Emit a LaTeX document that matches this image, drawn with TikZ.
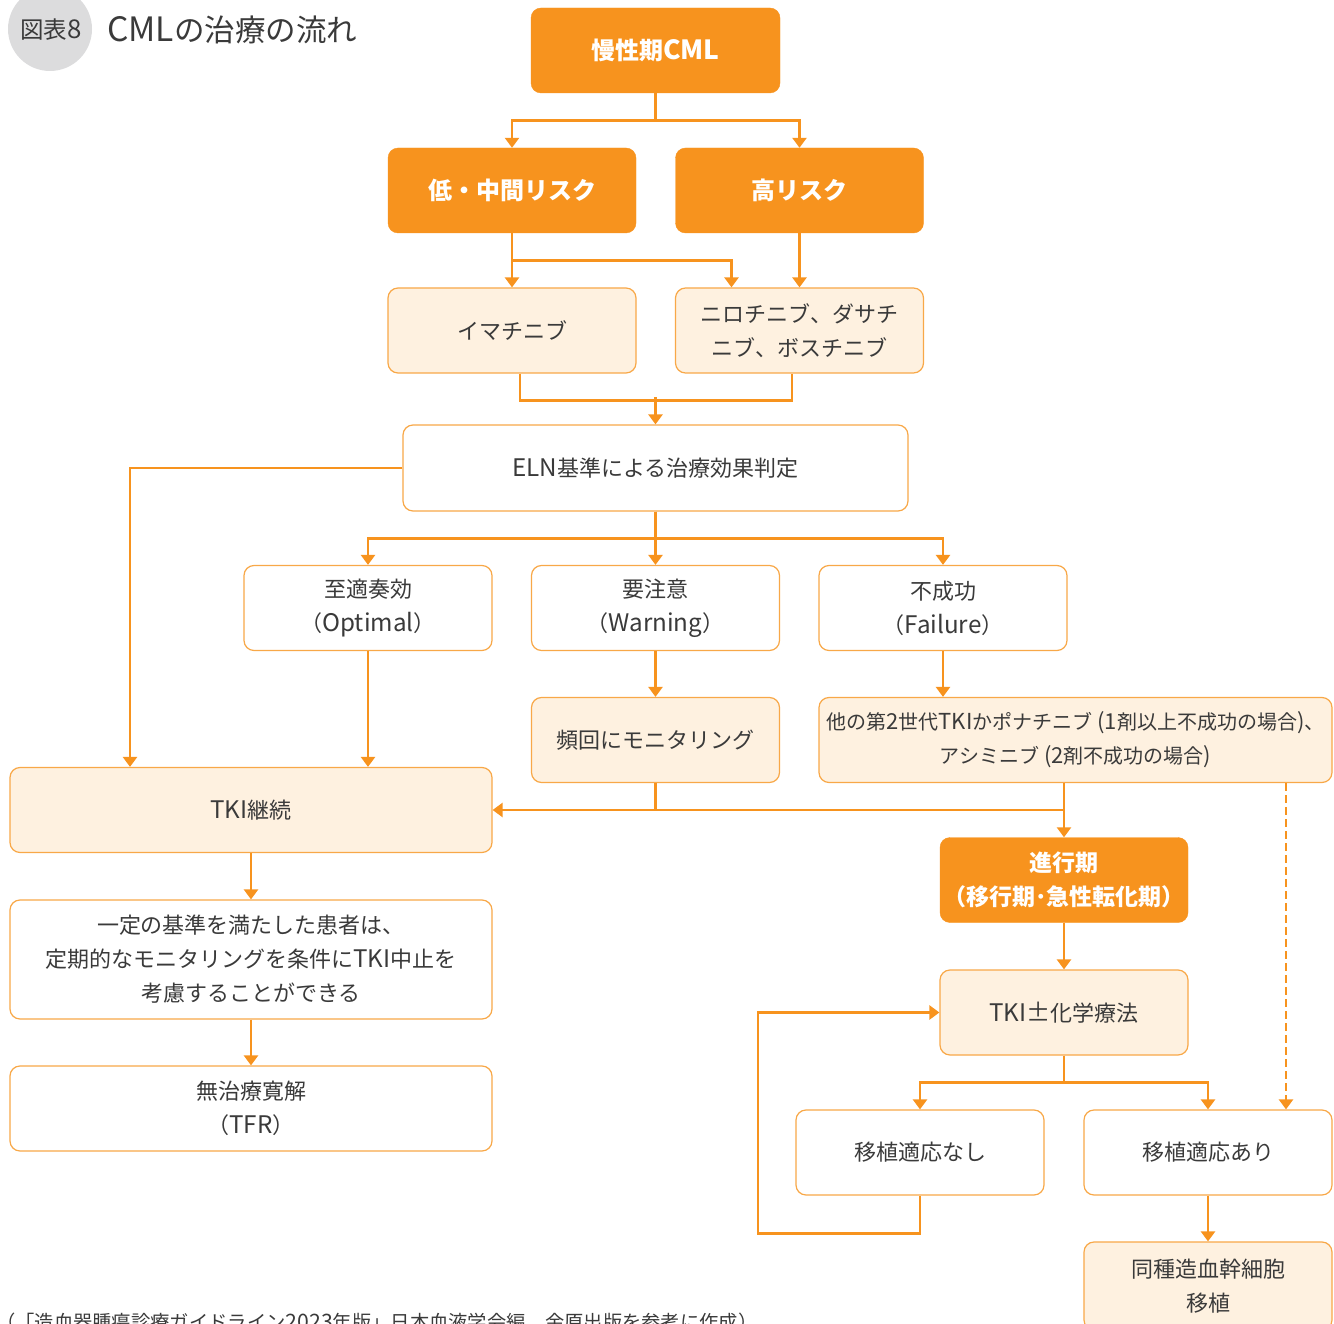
\documentclass[tikz,border=0pt]{standalone}
\usepackage{fontspec}
\setmainfont{Noto Sans CJK JP}
\newfontfamily\latf{Noto Sans CJK JP}[Scale=1.1]
\newcommand{\la}[1]{{\latf #1}}
\usetikzlibrary{arrows.meta}
\definecolor{org}{HTML}{F7931E}
\definecolor{lt}{HTML}{FEF1E0}
\definecolor{bd}{HTML}{F8A848}
\definecolor{txt}{HTML}{3A3A3A}
\definecolor{cgray}{HTML}{DCDCDD}
\tikzset{
  base/.style={rounded corners=10pt, minimum width=248pt, minimum height=85pt, align=center, inner sep=0pt, text=txt, font=\fontsize{22}{34}\selectfont},
  obox/.style={base, fill=org, draw=org, text=white, font=\bfseries\fontsize{24}{34}\selectfont},
  lbox/.style={base, fill=lt, draw=bd, line width=1.2pt},
  wbox/.style={base, fill=white, draw=bd, line width=1.2pt},
  ln/.style={draw=org, line width=2.8pt},
  conn/.style={ln, -{Triangle[width=14pt,length=10pt]}},
}
\begin{document}
\begin{tikzpicture}[x=1pt,y=-1pt]
\useasboundingbox[clip] (0,0) rectangle (1334,1324);
% title
\node[circle, fill=cgray, minimum size=84pt, inner sep=0pt] (tc) at (50,29) {};
\node[text=txt, font=\fontsize{23.5}{26}\selectfont] (tn) at (51,30) {図表\la{8}};
\node[anchor=west, text=txt, font=\fontsize{30.5}{34}\selectfont, inner sep=0pt] (tt) at (107,30) {\la{CML}の治療の流れ};
% nodes
\node[obox, minimum width=249pt] (cml) at (655.5,50.5) {慢性期\la{CML}};
\node[obox] (low) at (512,190.5) {低・中間リスク};
\node[obox] (high) at (799.5,190.5) {高リスク};
\node[lbox] (ima) at (512,330.5) {イマチニブ};
\node[lbox] (nilo) at (799.5,330.5) {ニロチニブ、ダサチ\\ニブ、ボスチニブ};
\node[wbox, minimum width=505pt, minimum height=86pt] (eln) at (655.5,468) {\la{ELN}基準による治療効果判定};
\node[wbox] (opt) at (368,608) {至適奏効\\（\la{Optimal}）};
\node[wbox] (warn) at (655.5,608) {要注意\\（\la{Warning}）};
\node[wbox] (fail) at (943,608) {不成功\\（\la{Failure}）};
\node[lbox] (freq) at (655.5,740) {頻回にモニタリング};
\node[lbox, minimum width=513pt, font=\fontsize{20}{34}\selectfont] (other) at (1075.5,740) {他の第\la{2}世代\la{TKI}かポナチニブ\la{ (1}剤以上不成功の場合\la{)}、\\アシミニブ\la{ (2}剤不成功の場合\la{)}};
\node[lbox, minimum width=482pt] (tki) at (251,810) {\la{TKI}継続};
\node[obox, font=\bfseries\fontsize{23}{34}\selectfont] (adv) at (1064,880) {進行期\\（移行期･急性転化期）};
\node[lbox] (chemo) at (1064,1012.5) {\la{TKI±}化学療法};
\node[wbox] (nono) at (920,1152.5) {移植適応なし};
\node[wbox] (yes) at (1208,1152.5) {移植適応あり};
\node[lbox, minimum height=88pt] (allo) at (1208,1286) {同種造血幹細胞\\移植};
\node[wbox, minimum width=482pt, minimum height=119pt] (crit) at (251,959.5) {一定の基準を満たした患者は、\\定期的なモニタリングを条件に\la{TKI}中止を\\考慮することができる};
\node[wbox, minimum width=482pt] (tfr) at (251,1108.5) {無治療寛解\\（\la{TFR}）};
\node[anchor=base west, text=txt, font=\fontsize{19.3}{20}\selectfont, inner sep=0pt] (note) at (-4,1329) {（「造血器腫瘍診療ガイドライン\la{2023}年版」日本血液学会編　金原出版を参考に作成）};
% connectors
\draw[conn] (cml.south) -- ++(0,27) -| (low.north);
\draw[conn] (cml.south) -- ++(0,27) -| (high.north);
\draw[conn] (low.south) -- (ima.north);
\draw[conn] (low.south) -- ++(0,27) -| ([xshift=-68pt]nilo.north);
\draw[conn] (high.south) -- (nilo.north);
\draw[ln] ([xshift=8pt]ima.south) -- ++(0,27) -| ([xshift=-7.5pt]nilo.south);
\draw[conn] ([yshift=27pt]eln.north) -- (eln.north);
\draw[conn] (eln.west) -| ([xshift=-121pt]tki.north);
\draw[conn] (eln.south) -- ++(0,27) -| (opt.north);
\draw[conn] (eln.south) -- ++(0,27) -| (fail.north);
\draw[conn] (eln.south) -- (warn.north);
\draw[conn] (opt.south) -- (opt.south |- tki.north);
\draw[conn] (warn.south) -- (freq.north);
\draw[conn] (fail.south) -- (fail.south |- other.north);
\draw[conn] (adv.north |- other.south) -- (adv.north);
\draw[conn] (tki.east -| adv.north) -- (tki.east);
\draw[ln] (freq.south) -- (freq.south |- tki.east);
\draw[conn] (adv.south) -- (chemo.north);
\draw[conn] (chemo.south) -- ++(0,27) -| (nono.north);
\draw[conn] (chemo.south) -- ++(0,27) -| (yes.north);
\draw[conn] (nono.south) -- ++(0,38) -- ++(-162,0) |- (chemo.west);
\draw[conn, dash pattern=on 8pt off 4pt, line width=2.4pt] ([xshift=78pt]yes.north |- other.south) -- ([xshift=78pt]yes.north);
\draw[conn] (yes.south) -- (allo.north);
\draw[conn] (tki.south) -- (crit.north);
\draw[conn] (crit.south) -- (tfr.north);
\end{tikzpicture}
\end{document}
